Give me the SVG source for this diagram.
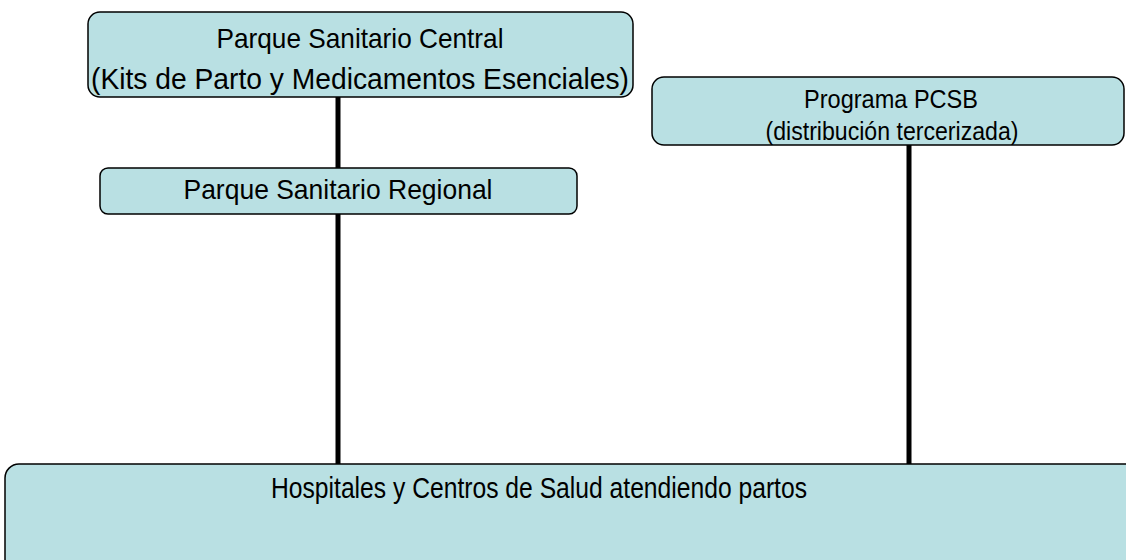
<svg xmlns="http://www.w3.org/2000/svg" width="1126" height="560" viewBox="0 0 1126 560">
<style>
.box{fill:#b9e0e3;stroke:#000;stroke-width:1.5}
.t{font-family:"Liberation Sans",Arial,sans-serif;fill:#000;text-anchor:middle}
.c{stroke:#000;stroke-width:5;fill:none}
</style>
<rect width="1126" height="560" fill="#fff"/>
<g id="connectors">
<line class="c" x1="338" y1="97" x2="338" y2="168"/>
<line class="c" x1="338" y1="214" x2="338" y2="464"/>
<line class="c" x1="909" y1="145" x2="909" y2="464"/>
</g>
<g id="central">
<rect class="box" x="88" y="12" width="545" height="85" rx="12"/>
<text class="t" x="360" y="48" font-size="28" textLength="287" lengthAdjust="spacingAndGlyphs">Parque Sanitario Central</text>
<text class="t" x="360" y="89" font-size="29" textLength="538" lengthAdjust="spacingAndGlyphs">(Kits de Parto y Medicamentos Esenciales)</text>
</g>
<g id="pcsb">
<rect class="box" x="652" y="77" width="472" height="68" rx="12"/>
<text class="t" x="891" y="108" font-size="26" textLength="174" lengthAdjust="spacingAndGlyphs">Programa PCSB</text>
<text class="t" x="892" y="140" font-size="26" textLength="253" lengthAdjust="spacingAndGlyphs">(distribución tercerizada)</text>
</g>
<g id="regional">
<rect class="box" x="100" y="168" width="477" height="46" rx="8"/>
<text class="t" x="338" y="199" font-size="28" textLength="309" lengthAdjust="spacingAndGlyphs">Parque Sanitario Regional</text>
</g>
<g id="hospitales">
<rect class="box" x="5" y="464" width="1140" height="120" rx="14"/>
<text class="t" x="539" y="498" font-size="29" textLength="536" lengthAdjust="spacingAndGlyphs">Hospitales y Centros de Salud atendiendo partos</text>
</g>
</svg>
